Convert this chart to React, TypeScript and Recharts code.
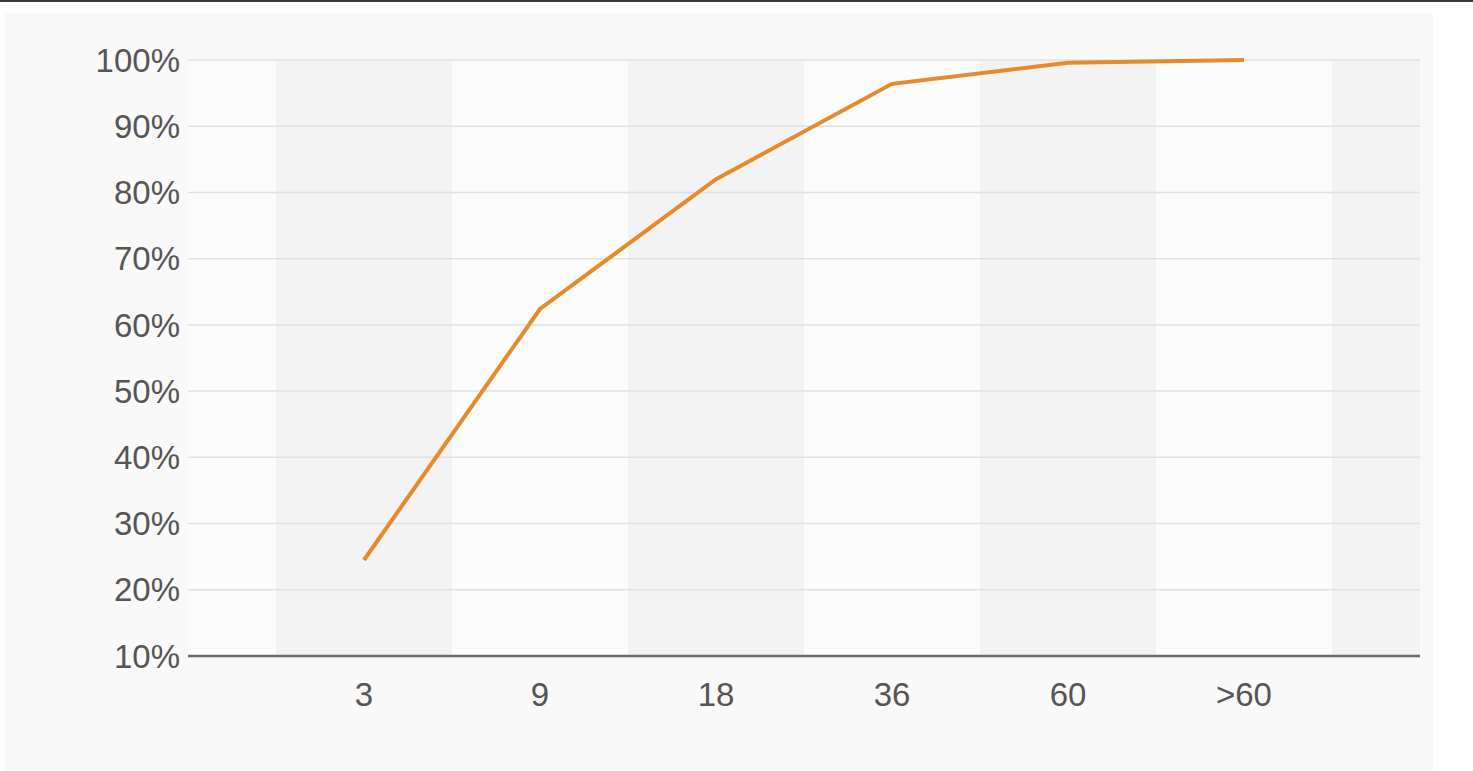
import {
  LineChart,
  Line,
  XAxis,
  YAxis,
  ReferenceArea,
  ReferenceLine,
} from "recharts";

const categories = ["3", "9", "18", "36", "60", ">60"];
const shares = [24.5, 62.4, 82, 96.4, 99.6, 100];
const yTicks = [10, 20, 30, 40, 50, 60, 70, 80, 90, 100];

// slot edges around each category (positions 1..6 on a 0..7 axis)
const bandEdges = [0, 0.5, 1.5, 2.5, 3.5, 4.5, 5.5, 6.5, 7];
const bandFills = ["#fcfcfc", "#f3f3f3"];

const data = categories.map((name, i) => ({ pos: i + 1, name, value: shares[i] }));

export default function App() {
  return (
    <div
      style={{
        position: "absolute",
        left: 0,
        top: 0,
        width: 1473,
        height: 771,
        background: "#ffffff",
        borderTop: "2px solid #3a3a3a",
        boxSizing: "border-box",
        fontFamily: '"Liberation Sans", Arial, sans-serif',
      }}
    >
      <div
        style={{
          position: "absolute",
          left: 5,
          top: 11,
          width: 1428,
          height: 758,
          background: "#f9f9f9",
        }}
      />
      <div style={{ position: "absolute", left: 0, top: -2 }}>
        <LineChart
          width={1473}
          height={771}
          data={data}
          margin={{ top: 60, right: 53, bottom: 55, left: 0 }}
        >
          {bandEdges.slice(0, -1).map((x1, i) => (
            <ReferenceArea
              key={"band" + i}
              x1={x1}
              x2={bandEdges[i + 1]}
              y1={10}
              y2={100}
              fill={bandFills[i % 2]}
              fillOpacity={1}
              stroke="none"
              ifOverflow="hidden"
            />
          ))}
          {yTicks.slice(1).map((v) => (
            <ReferenceLine
              key={"grid" + v}
              y={v}
              stroke="#e0e0e0"
              strokeWidth={1.5}
            />
          ))}
          <XAxis
            dataKey="pos"
            type="number"
            domain={[0, 7]}
            ticks={[1, 2, 3, 4, 5, 6]}
            tickFormatter={(v: number) => categories[v - 1] ?? ""}
            height={60}
            tickLine={false}
            tickSize={0}
            tickMargin={27}
            axisLine={{ stroke: "#6a6a6a", strokeWidth: 2.5 }}
            tick={{ fill: "#555", fontSize: 33 }}
          />
          <YAxis
            type="number"
            domain={[10, 100]}
            ticks={yTicks}
            tickFormatter={(v: number) => `${v}%`}
            width={188}
            axisLine={false}
            tickLine={false}
            tickSize={0}
            tickMargin={8}
            tick={{ fill: "#555", fontSize: 33 }}
          />
          <Line
            type="linear"
            dataKey="value"
            stroke="#e68a2c"
            strokeWidth={4}
            dot={false}
            isAnimationActive={false}
          />
        </LineChart>
      </div>
    </div>
  );
}
